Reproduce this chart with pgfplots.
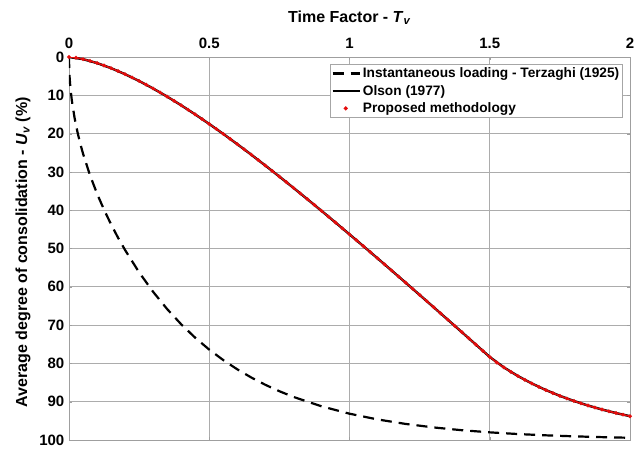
\documentclass[border=0pt]{standalone}
\usepackage{fontspec}
\setmainfont{Liberation Sans}
\usepackage{pgfplots}
\pgfplotsset{compat=1.18}
\definecolor{myred}{rgb}{0.9,0.05,0.05}
\begin{document}
\begin{tikzpicture}
\path[use as bounding box] (-69pt,-8pt) rectangle (568pt,440pt);
\begin{axis}[
  scale only axis, width=561pt, height=383pt,
  at={(0pt,0pt)}, anchor=south west,
  xmin=0, xmax=2, ymin=0, ymax=100,
  y dir=reverse,
  xtick={0,0.5,1,1.5,2},
  xticklabels={0,0.5,1,1.5,2},
  ytick={0,10,...,100},
  xticklabel pos=top,
  /pgf/number format/assume math mode=true,
  ticklabel style={font=\fontsize{15}{17}\selectfont\bfseries},
  xticklabel style={anchor=base, yshift=8.5pt},
  yticklabel style={anchor=east, inner sep=0pt, xshift=-4.5pt},
  label style={font=\fontsize{16}{18}\selectfont\bfseries},
  xlabel style={at={(axis description cs:0.5,1)}, anchor=base, yshift=35pt},
  ylabel style={at={(axis description cs:-0.082,0.49)}, rotate=0, anchor=center},
  xlabel={Time Factor - \textit{T}\textsubscript{\textit{v}}},
  ylabel={Average degree of consolidation - \textit{U}\textsubscript{\textit{v}} (\%)},
  grid=major,
  grid style={gray!65, line width=0.7pt},
  axis line style={gray!75, line width=0.7pt},
  tick style={gray!75},
  major tick length=3pt,
  tick align=inside,
  legend style={at={(0.9875,0.9817)}, anchor=north east, draw=gray!70, line width=0.6pt,
    font=\fontsize{13.7}{16}\selectfont\bfseries, cells={anchor=west},
    inner sep=1.5pt, row sep=2pt},
  legend image code/.code={\draw[#1] (0pt,0pt) -- (27pt,0pt);},
]
\addplot[black, line width=2.2pt, dash pattern=on 11pt off 7pt] coordinates {
(0,0) (0.001,3.57) (0.0025,5.64) (0.005,7.98) (0.01,11.28) (0.02,15.96) (0.03,19.54)
(0.04,22.57) (0.05,25.23) (0.075,30.90) (0.1,35.68) (0.125,39.89) (0.15,43.70)
(0.175,47.20) (0.2,50.41) (0.25,56.23) (0.3,61.32) (0.35,65.82) (0.4,69.79)
(0.45,73.30) (0.5,76.40) (0.55,79.13) (0.6,81.55) (0.65,83.69) (0.7,85.59)
(0.75,87.26) (0.8,88.74) (0.9,91.20) (1.0,93.13) (1.1,94.63) (1.2,95.80)
(1.3,96.72) (1.4,97.44) (1.5,98.00) (1.6,98.44) (1.7,98.78) (1.8,99.04)
(1.9,99.25) (2.0,99.42)};
\addlegendentry{Instantaneous loading - Terzaghi (1925)}
\addplot[black, line width=2.4pt] coordinates {
(0,0) (0.05,0.561) (0.1,1.586) (0.15,2.914) (0.2,4.486) (0.25,6.264) (0.3,8.225)
(0.35,10.346) (0.4,12.607) (0.45,14.993) (0.5,17.489) (0.55,20.082) (0.6,22.762)
(0.65,25.517) (0.7,28.338) (0.75,31.220) (0.8,34.153) (0.85,37.133) (0.9,40.155)
(0.95,43.212) (1.0,46.302) (1.05,49.420) (1.1,52.562) (1.15,55.727) (1.2,58.912)
(1.25,62.113) (1.3,65.330) (1.35,68.561) (1.4,71.803) (1.45,75.056) (1.5,78.319)
(1.55,81.03) (1.6,83.28) (1.65,85.24) (1.7,86.96) (1.75,88.47) (1.8,89.81)
(1.85,90.99) (1.9,92.04) (1.95,92.96) (2.0,93.78)};
\addlegendentry{Olson (1977)}
\addplot[myred, line width=1.6pt, mark=*, mark size=0.95pt,
  legend image code/.code={\fill[myred] (13pt,0pt) circle (1.1pt);}] coordinates {
(0,0) (0.025,0.198) (0.05,0.561) (0.075,1.030) (0.1,1.586) (0.125,2.216) (0.15,2.914)
(0.175,3.671) (0.2,4.486) (0.225,5.352) (0.25,6.264) (0.275,7.223) (0.3,8.225)
(0.325,9.266) (0.35,10.346) (0.375,11.459) (0.4,12.607) (0.425,13.786) (0.45,14.993)
(0.475,16.228) (0.5,17.489) (0.525,18.774) (0.55,20.082) (0.575,21.412) (0.6,22.762)
(0.625,24.130) (0.65,25.517) (0.675,26.920) (0.7,28.338) (0.725,29.772) (0.75,31.220)
(0.775,32.681) (0.8,34.153) (0.825,35.639) (0.85,37.133) (0.875,38.640) (0.9,40.155)
(0.925,41.680) (0.95,43.212) (0.975,44.754) (1.0,46.302) (1.025,47.858) (1.05,49.420)
(1.075,50.988) (1.1,52.562) (1.125,54.143) (1.15,55.727) (1.175,57.318) (1.2,58.912)
(1.225,60.511) (1.25,62.113) (1.275,63.720) (1.3,65.330) (1.325,66.944) (1.35,68.561)
(1.375,70.181) (1.4,71.803) (1.425,73.429) (1.45,75.056) (1.475,76.686) (1.5,78.319)
(1.525,79.756) (1.55,81.03) (1.575,82.20) (1.6,83.28) (1.625,84.29) (1.65,85.24)
(1.675,86.12) (1.7,86.96) (1.725,87.74) (1.75,88.47) (1.775,89.16) (1.8,89.81)
(1.825,90.42) (1.85,90.99) (1.875,91.53) (1.9,92.04) (1.925,92.51) (1.95,92.96)
(1.975,93.38) (2.0,93.78)};
\addlegendentry{Proposed methodology}
\end{axis}
\end{tikzpicture}
\end{document}
